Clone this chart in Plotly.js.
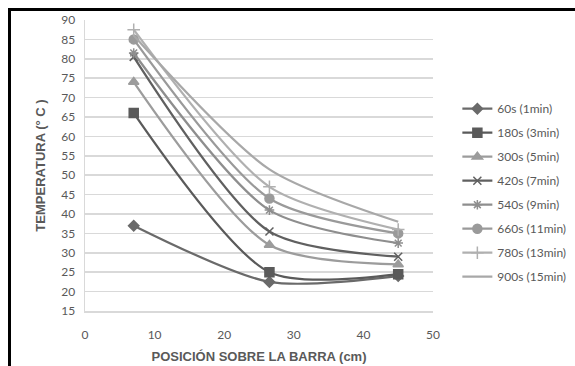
<!DOCTYPE html>
<html>
<head>
<meta charset="utf-8">
<script src="https://cdn.plot.ly/plotly-3.0.1.min.js"></script>
<style>
  html, body { margin: 0; padding: 0; background: #fff; }
  #chart { position: absolute; left: 0; top: 0; width: 575px; height: 366px; }
  #frame { position: absolute; left: 8px; top: 8px; width: 580px; height: 370px;
           border-left: 3px solid #000; border-top: 3px solid #000; pointer-events: none; }
</style>
</head>
<body>
<div id="chart"></div>
<div id="frame"></div>
<script>
// Position along the bar (cm)
const positions = [7, 26.5, 45];

// Series names
const seriesNames = ["60s (1min)", "180s (3min)", "300s (5min)", "420s (7min)",
                     "540s (9min)", "660s (11min)", "780s (13min)", "900s (15min)"];

// Temperatures (°C) for each series
const t60  = [37, 22.5, 24];
const t180 = [66, 25, 24.5];
const t300 = [74, 32, 27];
const t420 = [80.5, 35.5, 29];
const t540 = [81.5, 41, 32.5];
const t660 = [85, 44, 35];
const t780 = [87.5, 47, 36];
const t900 = [86, 51.5, 38];

const values = [t60, t180, t300, t420, t540, t660, t780, t900];

const colors  = ["#6a6a6a", "#5a5a5a", "#9c9c9c", "#606060", "#8e8e8e", "#9a9a9a", "#b0b0b0", "#a8a8a8"];
const symbols = ["diamond", "square", "triangle-up", "x-thin-open", "asterisk-open", "circle", "cross-thin-open", "circle"];
const msizes  = [8, 9, 9, 8, 8, 9, 9, 0];

const fontFam = "Lato, 'Open Sans', sans-serif";

const traces = values.map((v, i) => ({
  x: positions,
  y: v,
  name: seriesNames[i],
  legendgroup: "g" + i,
  type: "scatter",
  mode: msizes[i] > 0 ? "lines+markers" : "lines",
  line: { color: colors[i], width: 2.25, shape: "spline", smoothing: 0.75 },
  marker: { symbol: symbols[i], size: msizes[i], color: colors[i],
            line: { color: colors[i], width: 1.5 } }
}));

const layout = {
  width: 575, height: 366,
  margin: { l: 85, r: 142, t: 20, b: 55, autoexpand: false },
  paper_bgcolor: "#fff", plot_bgcolor: "#fff",
  showlegend: true,
  legend: {
    x: 1.07, xanchor: "left", y: 0.745, yanchor: "top",
    font: { family: fontFam, size: 12, color: "#595959" },
    tracegroupgap: 5, itemwidth: 30, bgcolor: "rgba(0,0,0,0)"
  },
  xaxis: {
    range: [0, 50], dtick: 10, tick0: 0,
    showgrid: false, zeroline: false,
    showline: true, linecolor: "#d9d9d9", linewidth: 1.5,
    ticks: "", ticklabelstandoff: 12,
    tickfont: { family: fontFam, size: 12, color: "#595959" },
    title: { text: "POSICIÓN SOBRE LA BARRA (cm)", standoff: 11,
             font: { family: "'Liberation Sans', Arial, sans-serif", size: 13, color: "#595959", weight: "bold" } }
  },
  yaxis: {
    range: [15, 90], dtick: 5, tick0: 15,
    showgrid: true, gridcolor: "#d9d9d9", gridwidth: 1.5, zeroline: false,
    showline: true, linecolor: "#d9d9d9", linewidth: 1.5,
    ticks: "", ticklabelstandoff: 6,
    tickfont: { family: fontFam, size: 12, color: "#595959" },
    title: { text: "TEMPERATURA (° C )", standoff: 12,
             font: { family: "'Liberation Sans', Arial, sans-serif", size: 13, color: "#595959", weight: "bold" } }
  }
};

Plotly.newPlot("chart", traces, layout, { staticPlot: true });
</script>
</body>
</html>
